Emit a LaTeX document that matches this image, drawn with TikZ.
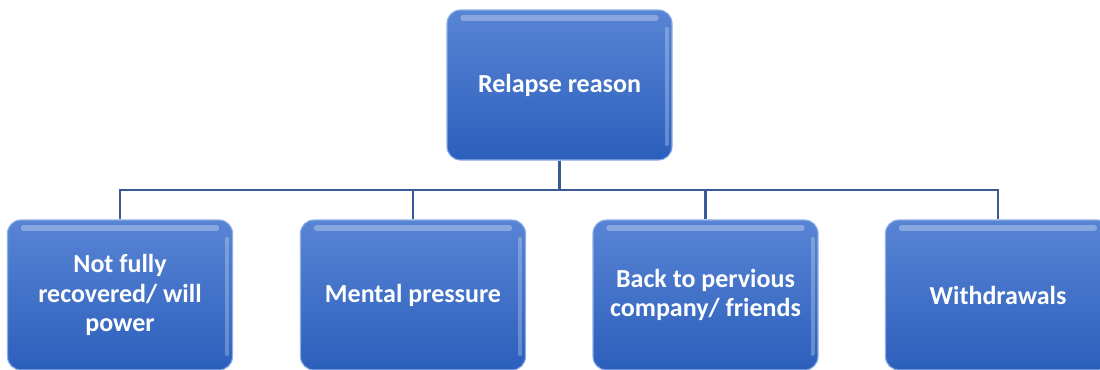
\documentclass[tikz,border=0pt]{standalone}
\usepackage{fontspec}
\setmainfont{Carlito}

\definecolor{boxtop}{RGB}{88,132,212}
\definecolor{boxbot}{RGB}{44,95,188}
\definecolor{boxedge}{RGB}{140,175,230}
\definecolor{linkblue}{RGB}{58,90,150}

\tikzset{
  reason/.style={rounded corners=10pt, draw=boxedge, line width=0.8pt,
    top color=boxtop, bottom color=boxbot,
    minimum width=168.75pt, minimum height=112.5pt, align=center,
    text=white, font=\bfseries\fontsize{19.5}{22}\selectfont,
    path picture={\draw[white, opacity=0.3, line width=4pt, line cap=round]
      ([xshift=12pt,yshift=-6pt]path picture bounding box.north west) --
      ([xshift=-12pt,yshift=-6pt]path picture bounding box.north east);
      \draw[white, opacity=0.25, line width=3pt, line cap=round]
      ([xshift=-4pt,yshift=-14pt]path picture bounding box.north east) --
      ([xshift=-4pt,yshift=12pt]path picture bounding box.south east);}},
  link/.style={draw=linkblue, line width=1.6pt}
}

\begin{document}
\begin{tikzpicture}[x=0.75pt,y=-0.75pt]
\useasboundingbox (0,0) rectangle (1100,369);

% top node
\node[reason] (top) at (559.5,85) {Relapse reason};

% reasons
\node[reason] (b1) at (120,295) {Not fully\\recovered/ will\\power};
\node[reason] (b2) at (413,295) {Mental pressure};
\node[reason] (b3) at (705.5,295) {Back to pervious\\company/ friends};
\node[reason] (b4) at (998,295) {Withdrawals};

\coordinate (bus) at (559.5,190);
\foreach \b in {b1,b2,b3,b4}
  \draw[link] (top.south) -- (bus) -| (\b.north);
\end{tikzpicture}
\end{document}
